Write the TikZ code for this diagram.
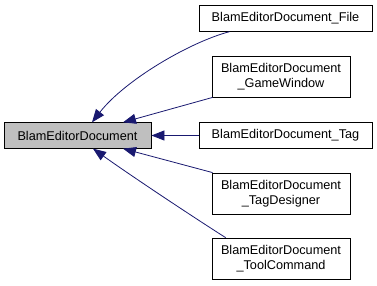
\documentclass[tikz,border=0pt]{standalone}
\usepackage{fontspec}
\setmainfont{Liberation Sans}
\usetikzlibrary{arrows.meta}
\definecolor{edgeblue}{HTML}{191970}
\definecolor{maingray}{HTML}{BFBFBF}
\tikzset{
  cls/.style={draw=black, line width=0.8pt, fill=white, inner sep=0pt, align=center,
    font=\fontsize{12.7}{15}\selectfont, text=black},
  onebox/.style={cls, minimum width=173pt, minimum height=25.5pt},
  twobox/.style={cls, minimum width=138pt, minimum height=41pt},
  mainbox/.style={cls, fill=maingray, minimum width=147pt, minimum height=25.5pt},
  inh/.style={draw=edgeblue, line width=0.8pt, {Triangle[length=13pt,width=10pt,fill=edgeblue]}-}
}
\begin{document}
\begin{tikzpicture}[x=1pt,y=-1pt]
\useasboundingbox (0,0) rectangle (377,286);
\node[mainbox] (main) at (77.5,135.5) {BlamEditorDocument};
\node[onebox] (file) at (285.5,18.5) {BlamEditorDocument\_File};
\node[twobox] (game) at (281,76.5) {BlamEditorDocument\\\_GameWindow};
\node[onebox] (tag) at (285.5,135.5) {BlamEditorDocument\_Tag};
\node[twobox] (design) at (281,193.5) {BlamEditorDocument\\\_TagDesigner};
\node[twobox] (tool) at (281,258.5) {BlamEditorDocument\\\_ToolCommand};
\draw[inh] ([xshift=14.5pt]main.north) .. controls (125,80) and (190,42) .. ([xshift=31pt]file.south west);
\draw[inh] ([xshift=45.5pt]main.north) -- ([xshift=1pt]game.south west);
\draw[inh] (main.east) -- (tag.west);
\draw[inh] ([xshift=45.5pt]main.south) -- ([xshift=1pt]design.north west);
\draw[inh] ([xshift=15.5pt]main.south) .. controls (130,175) and (190,215) .. ([xshift=14pt]tool.north west);
\end{tikzpicture}
\end{document}
